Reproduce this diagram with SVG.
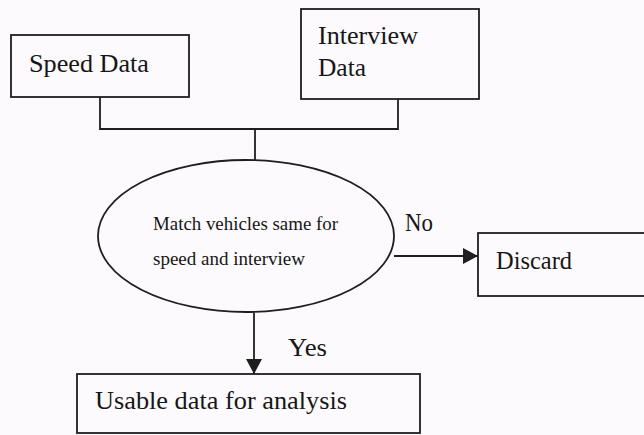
<svg xmlns="http://www.w3.org/2000/svg" width="644" height="435" viewBox="0 0 644 435">
  <style>
    .box { fill: none; stroke: #1e1e1e; stroke-width: 1.8; }
    .line { fill: none; stroke: #1e1e1e; stroke-width: 1.8; }
    text { font-family: 'Liberation Serif', 'Times New Roman', Times, serif; fill: #161616; }
    .big { font-size: 25px; }
    .small { font-size: 18px; }
  </style>
  <defs>
    <marker id="arrow" markerWidth="16" markerHeight="16" refX="15" refY="8" orient="auto" markerUnits="userSpaceOnUse">
      <path d="M0,0 L15,8 L0,16 Z" fill="#1e1e1e"/>
    </marker>
  </defs>
  <rect width="644" height="435" fill="#fcfafc"/>

  <g id="connectors">
    <!-- merge of the two data sources -->
    <polyline class="line" points="100,97 100,129 398,129 398,99"/>
    <line class="line" x1="255" y1="129" x2="255" y2="160"/>
    <!-- No branch -->
    <line class="line" x1="394" y1="256" x2="478" y2="256" marker-end="url(#arrow)"/>
    <!-- Yes branch -->
    <line class="line" x1="254" y1="313" x2="254" y2="374" marker-end="url(#arrow)"/>
  </g>

  <g id="speed-data">
    <rect class="box" x="11" y="35" width="178" height="62"/>
    <text class="big" x="29" y="72" textLength="120" lengthAdjust="spacingAndGlyphs">Speed Data</text>
  </g>

  <g id="interview-data">
    <rect class="box" x="301" y="9" width="178" height="90"/>
    <text class="big" x="318" y="44" textLength="100" lengthAdjust="spacingAndGlyphs">Interview</text>
    <text class="big" x="318" y="76" textLength="48" lengthAdjust="spacingAndGlyphs">Data</text>
  </g>

  <g id="match">
    <ellipse class="box" cx="246" cy="236" rx="148" ry="76"/>
    <text class="small" x="153" y="230" textLength="185" lengthAdjust="spacingAndGlyphs">Match vehicles same for</text>
    <text class="small" x="153" y="265" textLength="152" lengthAdjust="spacingAndGlyphs">speed and interview</text>
  </g>

  <g id="labels">
    <text class="big" x="405" y="231" textLength="28" lengthAdjust="spacingAndGlyphs">No</text>
    <text class="big" x="288" y="356" textLength="39" lengthAdjust="spacingAndGlyphs">Yes</text>
  </g>

  <g id="discard">
    <rect class="box" x="478" y="233" width="180" height="63"/>
    <text class="big" x="496" y="269" textLength="76" lengthAdjust="spacingAndGlyphs">Discard</text>
  </g>

  <g id="usable">
    <rect class="box" x="77" y="374" width="343" height="59"/>
    <text class="big" x="95" y="409" textLength="252" lengthAdjust="spacingAndGlyphs">Usable data for analysis</text>
  </g>
</svg>
